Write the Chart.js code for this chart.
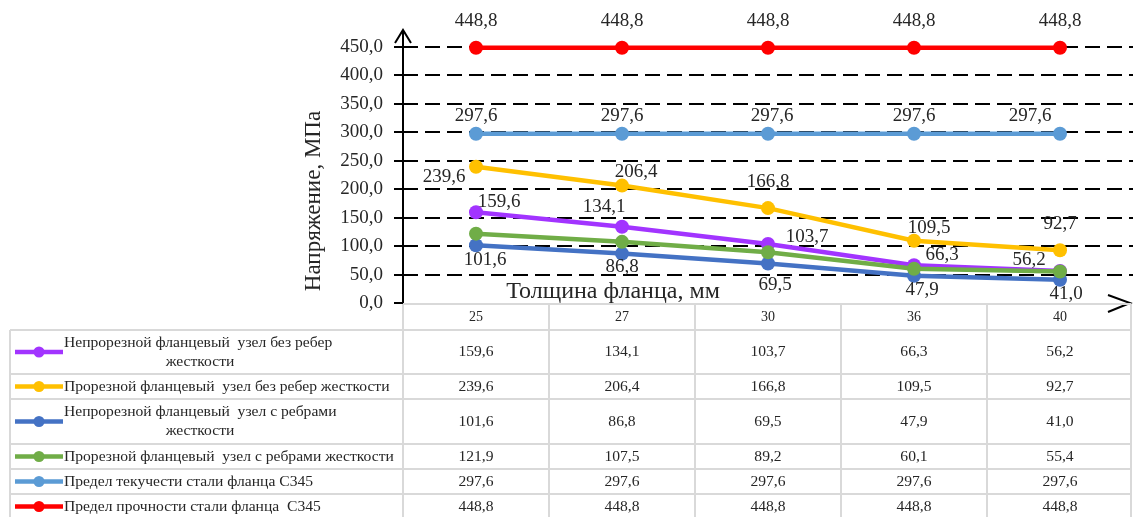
<!DOCTYPE html>
<html>
<head>
<meta charset="utf-8">
<script src="https://cdn.jsdelivr.net/npm/chart.js@4.4.1/dist/chart.umd.min.js"></script>
<style>
  html, body { margin: 0; padding: 0; background: #fff; }
  #wrap { width: 1134px; height: 517px; }
</style>
</head>
<body>
<div id="wrap"><canvas id="chart" width="1134" height="517"></canvas></div>
<script>
// flange thickness, mm
const thickness = ['25', '27', '30', '36', '40'];

// stress, MPa
const solidNoRibs = [159.6, 134.1, 103.7, 66.3, 56.2];
const slottedNoRibs = [239.6, 206.4, 166.8, 109.5, 92.7];
const solidRibs = [101.6, 86.8, 69.5, 47.9, 41.0];
const slottedRibs = [121.9, 107.5, 89.2, 60.1, 55.4];
const yieldLimit = [297.6, 297.6, 297.6, 297.6, 297.6];
const strengthLimit = [448.8, 448.8, 448.8, 448.8, 448.8];

const yTicks = [0, 50, 100, 150, 200, 250, 300, 350, 400, 450];

const seriesNames = [
  'Непрорезной фланцевый  узел без ребер жесткости',
  'Прорезной фланцевый  узел без ребер жесткости',
  'Непрорезной фланцевый  узел с ребрами жесткости',
  'Прорезной фланцевый  узел с ребрами жесткости',
  'Предел текучести стали фланца С345',
  'Предел прочности стали фланца  С345'
];
const seriesData = [solidNoRibs, slottedNoRibs, solidRibs, slottedRibs, yieldLimit, strengthLimit];
const colors = ['#A234FF', '#FFC000', '#4472C4', '#70AD47', '#5B9BD5', '#FF0000'];

// where each value label sits relative to its point (null = no labels)
const labelShift = [
  [[23, -10], [-18, -20], [39, -7], [28, -10], [-31, -11]],
  [[-32, 10], [14, -14], [0, -26], [15, -13], [0, -26]],
  [[9, 15], [0, 13], [7, 22], [8, 14], [6, 14]],
  null,
  [[0, -18], [0, -18], [4, -18], [0, -18], [-30, -18]],
  [[0, -27], [0, -27], [0, -27], [0, -27], [0, -27]]
];

const FONT = '"Liberation Serif", "Times New Roman", serif';
const TEXT = '#262626';
const fmt = v => v.toFixed(1).replace('.', ',');

// table rows under the plot
const tableTop = 304;
const headerBottom = 330;
const rowHeights = [44, 25, 45, 25, 25, 25];
const tableLeft = 10;
const keyTextX = 64;

const decor = {
  id: 'decor',
  afterDatasetsDraw(chart) {
    const ctx = chart.ctx;
    const xs = chart.scales.x;
    const ys = chart.scales.y;
    const { left, right, bottom } = chart.chartArea;

    // value labels
    ctx.save();
    ctx.font = '19px ' + FONT;
    ctx.fillStyle = TEXT;
    ctx.textAlign = 'center';
    ctx.textBaseline = 'middle';
    seriesData.forEach((vals, s) => {
      if (!labelShift[s]) return;
      vals.forEach((v, i) => {
        const [dx, dy] = labelShift[s][i];
        ctx.fillText(fmt(v), xs.getPixelForValue(i) + dx, ys.getPixelForValue(v) + dy);
      });
    });
    ctx.restore();

    // axes with arrow heads
    ctx.save();
    ctx.strokeStyle = '#000';
    ctx.lineWidth = 2;
    ctx.beginPath();
    ctx.moveTo(left, bottom + 1);
    ctx.lineTo(left, 30);
    ctx.moveTo(left - 8, 43);
    ctx.lineTo(left, 30);
    ctx.lineTo(left + 8, 43);
    ctx.moveTo(right - 25, bottom - 8);
    ctx.lineTo(right - 3, bottom);
    ctx.lineTo(right - 25, bottom + 9);
    ctx.stroke();
    ctx.restore();

    // axis titles
    ctx.save();
    ctx.fillStyle = TEXT;
    ctx.font = '24px ' + FONT;
    ctx.textAlign = 'center';
    ctx.textBaseline = 'middle';
    ctx.fillText('Толщина фланца, мм', 613, 292);
    ctx.translate(314, 201);
    ctx.rotate(-Math.PI / 2);
    ctx.font = '23px ' + FONT;
    ctx.fillText('Напряжение, МПа', 0, 0);
    ctx.restore();
  },
  afterDraw(chart) {
    const ctx = chart.ctx;
    const xs = chart.scales.x;
    const { left, right } = chart.chartArea;
    const colW = (right - left) / thickness.length;

    ctx.save();
    ctx.strokeStyle = '#d9d9d9';
    ctx.lineWidth = 2;

    // header row with thickness values
    ctx.beginPath();
    ctx.moveTo(left, tableTop);
    ctx.lineTo(right - 2, tableTop);
    ctx.stroke();

    let y = headerBottom;
    const rowTops = [];
    rowHeights.forEach(h => { rowTops.push(y); y += h; });

    ctx.beginPath();
    rowTops.forEach(t => { ctx.moveTo(tableLeft, t); ctx.lineTo(right - 2, t); });
    ctx.moveTo(tableLeft, headerBottom);
    ctx.lineTo(tableLeft, 517);
    for (let i = 0; i <= thickness.length; i++) {
      const cx = left + i * colW - (i === thickness.length ? 2 : 0);
      ctx.moveTo(cx, tableTop);
      ctx.lineTo(cx, 517);
    }
    ctx.stroke();

    ctx.fillStyle = TEXT;
    ctx.textAlign = 'center';
    ctx.textBaseline = 'middle';
    ctx.font = '14px ' + FONT;
    thickness.forEach((t, i) => ctx.fillText(t, xs.getPixelForValue(i), 317));

    // series rows: legend key, name, values
    ctx.font = '15.6px ' + FONT;
    seriesData.forEach((vals, s) => {
      const top = rowTops[s];
      const mid = top + rowHeights[s] / 2;

      ctx.strokeStyle = colors[s];
      ctx.fillStyle = colors[s];
      ctx.lineWidth = 4.5;
      ctx.beginPath();
      ctx.moveTo(15, mid);
      ctx.lineTo(63, mid);
      ctx.stroke();
      ctx.beginPath();
      ctx.arc(39, mid, 5.5, 0, Math.PI * 2);
      ctx.fill();

      ctx.fillStyle = TEXT;
      const name = seriesNames[s];
      if (rowHeights[s] > 30) {
        const cut = name.lastIndexOf(' ');
        ctx.textAlign = 'left';
        ctx.fillText(name.slice(0, cut), keyTextX, mid - 9.5);
        ctx.textAlign = 'center';
        ctx.fillText(name.slice(cut + 1), 200, mid + 9.5);
      } else {
        ctx.textAlign = 'left';
        ctx.fillText(name, keyTextX, mid);
      }
      ctx.textAlign = 'center';
      vals.forEach((v, i) => ctx.fillText(fmt(v), xs.getPixelForValue(i), mid));
    });
    ctx.restore();
  }
};

new Chart(document.getElementById('chart'), {
  type: 'line',
  data: {
    labels: thickness,
    datasets: seriesData.map((vals, s) => ({
      label: seriesNames[s],
      data: vals,
      borderColor: colors[s],
      backgroundColor: colors[s],
      pointBackgroundColor: colors[s],
      pointBorderColor: colors[s],
      borderWidth: 4.5,
      pointRadius: 7,
      pointBorderWidth: 0,
      tension: 0,
      clip: false,
      order: seriesData.length - s
    }))
  },
  options: {
    responsive: false,
    animation: false,
    layout: { autoPadding: false, padding: { top: 47, bottom: 214, left: 0, right: 1 } },
    plugins: {
      legend: { display: false },
      tooltip: { enabled: false }
    },
    scales: {
      x: {
        display: false,
        offset: true
      },
      y: {
        min: 0,
        max: 450,
        afterBuildTicks: scale => { scale.ticks = yTicks.map(v => ({ value: v })); },
        afterFit: scale => { scale.width = 403; },
        ticks: {
          font: { family: FONT, size: 19 },
          color: TEXT,
          padding: 11,
          callback: v => fmt(v)
        },
        grid: {
          color: c => (c.tick && c.tick.value === 0 ? 'rgba(0,0,0,0)' : '#000'),
          lineWidth: 2,
          tickLength: 9,
          tickColor: '#000',
          tickBorderDash: []
        },
        border: { display: false, dash: [15, 7] }
      }
    }
  },
  plugins: [decor]
});
</script>
</body>
</html>
